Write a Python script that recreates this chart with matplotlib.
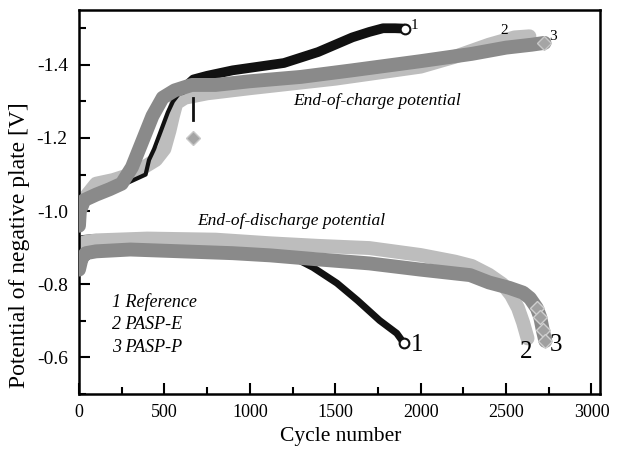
"""Potential of negative plate vs cycle number (end-of-charge / end-of-discharge)."""
import matplotlib
matplotlib.use("Agg")
import matplotlib.pyplot as plt
from matplotlib.ticker import MultipleLocator

plt.rcParams["font.family"] = ["Liberation Serif", "DejaVu Serif"]
plt.rcParams["axes.unicode_minus"] = False

# --- data ------------------------------------------------------------------
# 1 Reference
ref_chg_cyc = [0, 60, 150, 250, 390, 410, 440, 480, 520, 550, 600, 670, 750, 900,
               1050, 1200, 1300, 1400, 1500, 1600, 1700, 1780, 1850, 1906]
ref_chg_v = [-1.02, -1.04, -1.055, -1.07, -1.10, -1.14, -1.17, -1.22, -1.27, -1.30,
             -1.33, -1.36, -1.37, -1.385, -1.395, -1.405, -1.42, -1.435, -1.455,
             -1.475, -1.49, -1.50, -1.50, -1.499]
ref_dis_cyc = [0, 20, 100, 400, 700, 1000, 1150, 1250, 1370, 1510, 1630, 1760, 1860, 1900]
ref_dis_v = [-0.91, -0.925, -0.928, -0.925, -0.922, -0.912, -0.895, -0.875, -0.846,
             -0.803, -0.756, -0.701, -0.666, -0.64]
ref_spike_cyc = [668, 668]
ref_spike_v = [-1.31, -1.25]

# 2 PASP-E
e_chg_cyc = [0, 40, 100, 200, 300, 380, 450, 500, 530, 550, 570, 620, 750, 1000,
             1500, 2000, 2200, 2400, 2550, 2637]
e_chg_v = [-1.0, -1.04, -1.075, -1.085, -1.10, -1.12, -1.14, -1.17, -1.22, -1.26,
           -1.295, -1.31, -1.322, -1.336, -1.362, -1.395, -1.422, -1.455, -1.475, -1.478]
e_dis_cyc = [0, 30, 100, 400, 800, 1120, 1400, 1700, 2000, 2200, 2300, 2400, 2480,
             2530, 2570, 2600, 2626]
e_dis_v = [-0.90, -0.915, -0.92, -0.925, -0.922, -0.912, -0.905, -0.899, -0.88,
           -0.862, -0.85, -0.826, -0.80, -0.77, -0.735, -0.695, -0.652]

# 3 PASP-P
p_chg_cyc = [0, 5, 30, 100, 180, 250, 310, 370, 430, 490, 560, 660, 800, 1000,
             1300, 1600, 2000, 2300, 2500, 2650, 2725]
p_chg_v = [-0.96, -1.0, -1.03, -1.045, -1.06, -1.075, -1.12, -1.19, -1.26, -1.31,
           -1.33, -1.345, -1.345, -1.355, -1.367, -1.385, -1.41, -1.43, -1.447,
           -1.455, -1.46]
p_dis_cyc = [0, 15, 40, 100, 300, 600, 900, 1120, 1400, 1700, 2000, 2290, 2400,
             2520, 2600, 2640, 2680, 2700, 2715, 2730]
p_dis_v = [-0.84, -0.87, -0.885, -0.89, -0.895, -0.89, -0.885, -0.879, -0.868,
           -0.857, -0.84, -0.825, -0.805, -0.79, -0.777, -0.762, -0.735, -0.71,
           -0.675, -0.645]
p_outlier_cyc = [670]
p_outlier_v = [-1.20]

legend_lines = ["1 Reference", "2 PASP-E", "3 PASP-P"]

BLACK = "#111111"
LIGHT = "#bdbdbd"
MID = "#8a8a8a"


def main():
    fig = plt.figure(figsize=(6.19, 4.57), dpi=100)
    ax = fig.add_axes([0.1276, 0.1379, 0.8417, 0.8403])

    kw = dict(solid_capstyle="round", solid_joinstyle="round")
    # discharge
    ax.plot(ref_dis_cyc, ref_dis_v, color=BLACK, lw=5, zorder=1, **kw)
    ax.plot(e_dis_cyc, e_dis_v, color=LIGHT, lw=10, zorder=2, **kw)
    ax.plot(p_dis_cyc, p_dis_v, color=MID, lw=10, zorder=3, **kw)
    # charge
    ax.plot(e_chg_cyc, e_chg_v, color=LIGHT, lw=10, zorder=2, **kw)
    ax.plot(ref_chg_cyc[:11], ref_chg_v[:11], color=BLACK, lw=3, zorder=2.5, **kw)
    ax.plot(ref_chg_cyc[10:], ref_chg_v[10:], color=BLACK, lw=7, zorder=2.5, **kw)
    ax.plot(p_chg_cyc, p_chg_v, color=MID, lw=10, zorder=3, **kw)
    ax.plot(ref_spike_cyc, ref_spike_v, color=BLACK, lw=2, zorder=4)
    ax.plot(p_outlier_cyc, p_outlier_v, "D", ms=7, mfc="#a5a5a5", mec="#c8c8c8", zorder=4)

    # end markers
    for cyc, v in [(ref_chg_cyc, ref_chg_v), (ref_dis_cyc, ref_dis_v)]:
        ax.plot(cyc[-1], v[-1], "o", ms=7, mfc="white", mec=BLACK, mew=1.5, zorder=5)
    ax.plot(p_chg_cyc[-1], p_chg_v[-1], "D", ms=7, mfc="#a5a5a5", mec="#c8c8c8", zorder=5)
    ax.plot(p_dis_cyc[-4:], p_dis_v[-4:], "D", ms=7, mfc="#a0a0a0", mec="#cfcfcf",
            lw=0, zorder=5)

    # curve numbers
    small = dict(fontsize=11, ha="center", va="center", textcoords="offset points")
    big = dict(fontsize=18, ha="center", va="center", textcoords="offset points")
    ax.annotate("1", (ref_chg_cyc[-1], ref_chg_v[-1]), xytext=(7, 2.5), **small)
    ax.annotate("2", (e_chg_cyc[-1], e_chg_v[-1]), xytext=(-18, 4), **small)
    ax.annotate("3", (p_chg_cyc[-1], p_chg_v[-1]), xytext=(6, 4.5), **small)
    ax.annotate("1", (ref_dis_cyc[-1], ref_dis_v[-1]), xytext=(9.5, -1.5), **big)
    ax.annotate("2", (e_dis_cyc[-1], e_dis_v[-1]), xytext=(-1, -10), **big)
    ax.annotate("3", (p_dis_cyc[-1], p_dis_v[-1]), xytext=(8, -3), **big)

    ax.text(0.572, 0.763, "End-of-charge potential", transform=ax.transAxes,
            fontsize=12.5, style="italic", ha="center", va="center")
    ax.text(0.407, 0.451, "End-of-discharge potential", transform=ax.transAxes,
            fontsize=12.5, style="italic", ha="center", va="center")
    for i, line in enumerate(legend_lines):
        ax.text(0.063, 0.240 - i * 0.059, line, transform=ax.transAxes,
                fontsize=13, style="italic", ha="left", va="center")

    ax.set_xlim(0, 3050)
    ax.set_ylim(-0.5, -1.55)
    ax.xaxis.set_major_locator(MultipleLocator(500))
    ax.xaxis.set_minor_locator(MultipleLocator(250))
    ax.yaxis.set_major_locator(MultipleLocator(0.2))
    ax.yaxis.set_minor_locator(MultipleLocator(0.1))
    ax.yaxis.set_major_formatter(lambda v, pos: f"{v:.1f}")
    ax.tick_params(which="both", direction="in", top=False, right=False, width=1.5,
                   labelsize=13)
    ax.tick_params(which="major", length=8)
    ax.tick_params(which="minor", length=5)
    ax.tick_params(axis="x", pad=7)
    ax.tick_params(axis="y", pad=8, labelsize=14)
    for sp in ax.spines.values():
        sp.set_linewidth(1.8)

    ax.set_xlabel("Cycle number", fontsize=15.5)
    ax.set_ylabel("Potential of negative plate [V]", fontsize=17)
    ax.xaxis.set_label_coords(0.503, -0.085)
    ax.yaxis.set_label_coords(-0.094, 0.388)

    fig.savefig("out.png", dpi=100)
    plt.close(fig)


if __name__ == "__main__":
    main()
